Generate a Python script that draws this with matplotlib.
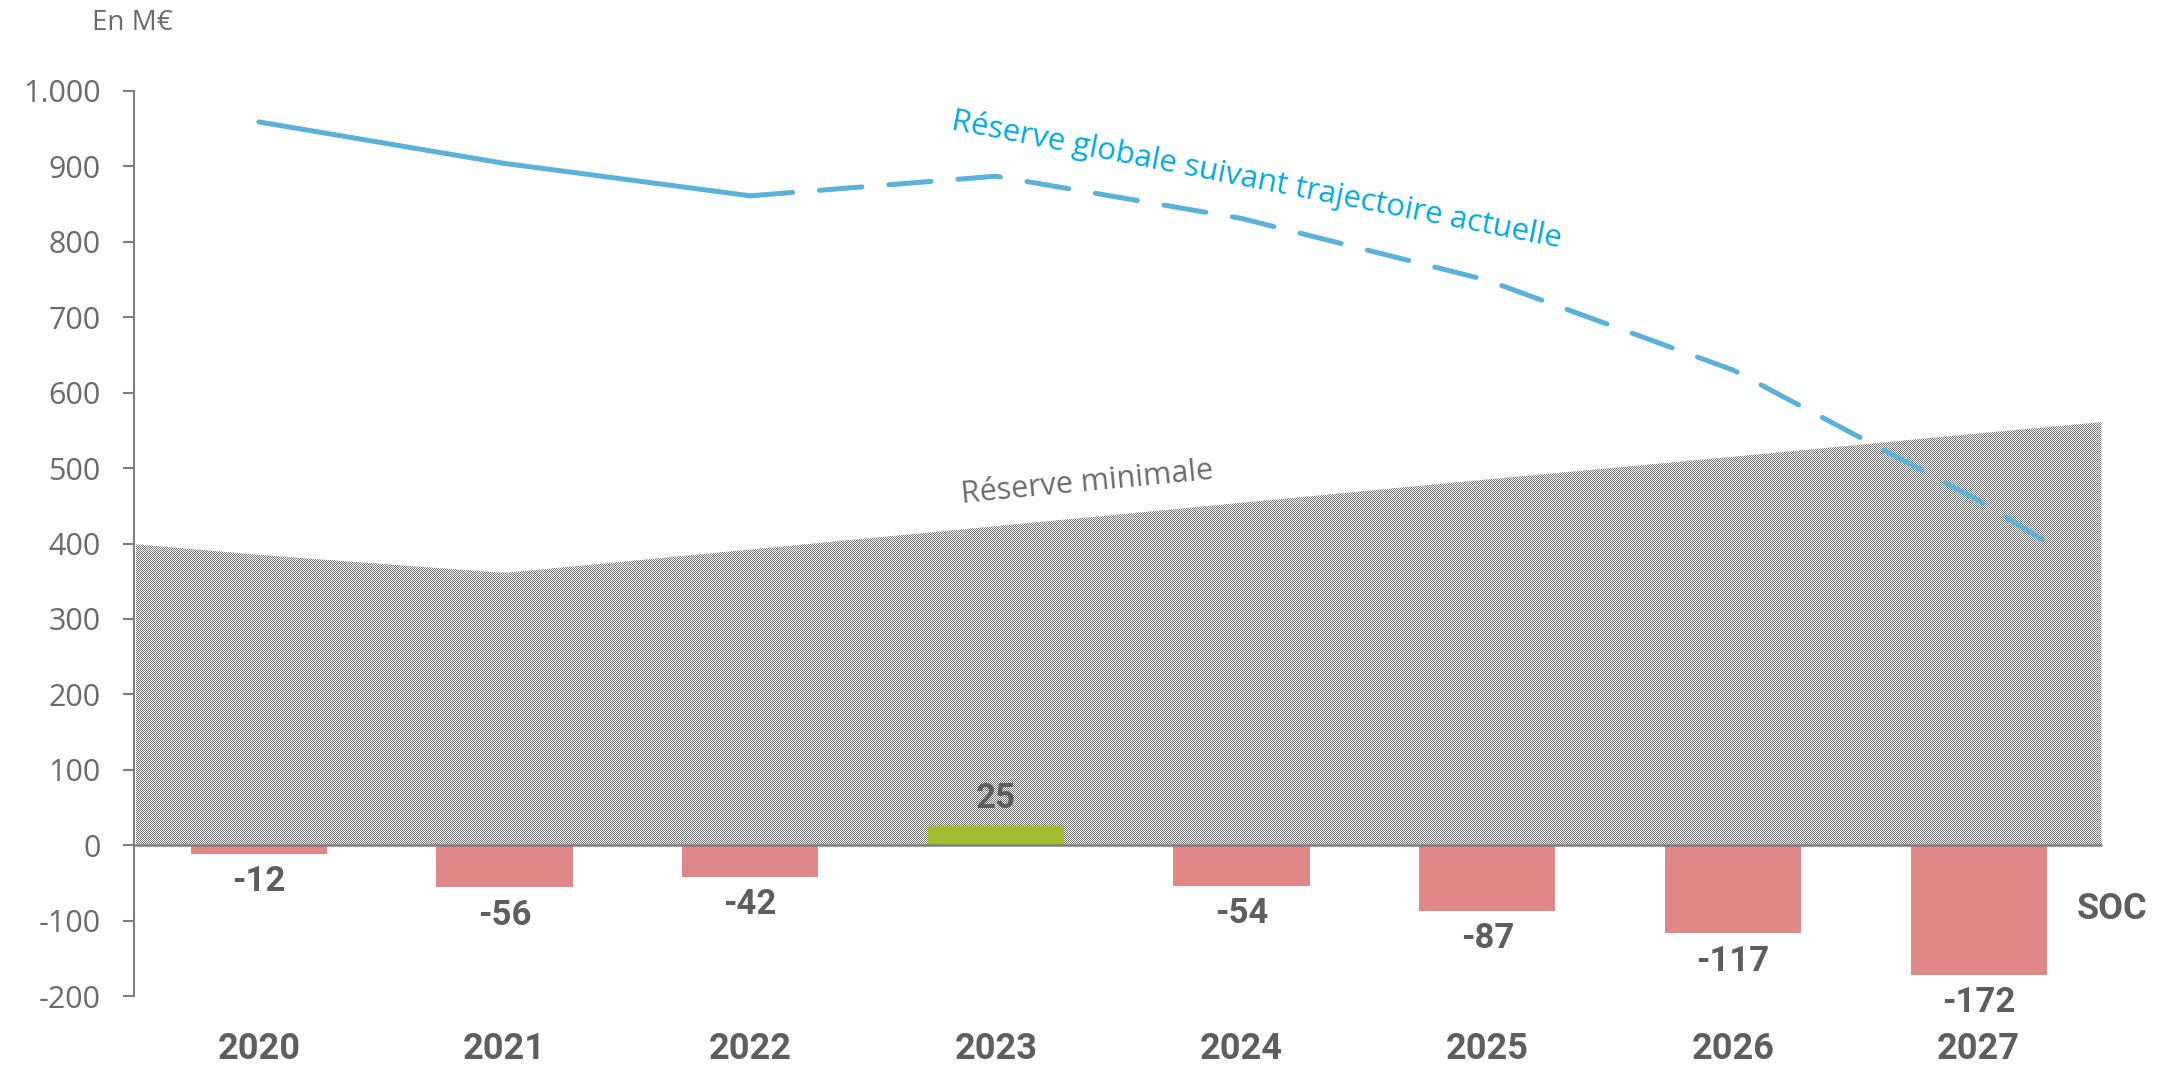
import numpy as np
import matplotlib
matplotlib.use("Agg")
import matplotlib.pyplot as plt

# data (M€)
years = ['2020', '2021', '2022', '2023', '2024', '2025', '2026', '2027']
soc = [-12, -56, -42, 25, -54, -87, -117, -172]
reserve_globale = [959, 904, 861, 887, 831, 749, 630, 457]
reserve_globale_tail = 397          # line runs a bit past 2027
n_realise = 3                       # 2020-2022 solid, then dashed
reserve_min = [385, 361, 392, 423, 454, 485, 515, 546]
reserve_min_edges = [399, 561]      # value at left / right edge of the area
yticks = list(range(-200, 1001, 100))

W, H, DPI = 2159, 1068, 100
GRAY = '#6b6b6b'
DARK = '#5e5e5e'
RED = '#e08888'
GREEN = '#a2bd30'
LINE = '#5ab2da'
CYAN = '#00a9e6'

REG = ['Open Sans', 'DejaVu Sans']
COND = ['Liberation Sans Narrow', 'Roboto', 'DejaVu Sans']

fig = plt.figure(figsize=(W / DPI, H / DPI), dpi=DPI, facecolor='white')
ax = fig.add_axes([134 / W, 72 / H, (W - 134) / W, 905 / H])
ax.set_facecolor('none')

x = np.arange(len(years))
x0 = -0.508
ax.set_xlim(x0, x0 + (W - 134) / 245.7)
ax.set_ylim(-200, 1000)

# minimal reserve: fine grey checker, clipped to the area
xs_area = np.concatenate([[x[0] - 0.5], x, [x[-1] + 0.5]])
ys_area = np.concatenate([[reserve_min_edges[0]], reserve_min, [reserve_min_edges[1]]])
coll = ax.fill_between(xs_area, 0, ys_area, facecolor='none', edgecolor='none')
yy, xx = np.mgrid[0:H, 0:W]
checker = np.ones((H, W, 4))
checker[(xx + yy) % 2 == 0, :3] = 0x74 / 255
im = fig.figimage(checker, xo=0, yo=0, origin='upper', zorder=-1)
im.set_clip_path(coll.get_paths()[0], ax.transData)

# bars
colors = [GREEN if v > 0 else RED for v in soc]
ax.bar(x, soc, width=0.555, color=colors, zorder=3)
for xi, v in zip(x, soc):
    off = 8 if v > 0 else -8
    ax.annotate(f'{v}', (xi, v), xytext=(0, off), textcoords='offset points',
                ha='center', va='bottom' if v > 0 else 'top',
                fontsize=25, fontweight='bold', color=DARK, family=COND)

# global reserve line
lx = list(x[:n_realise])
ly = reserve_globale[:n_realise]
ax.plot(lx, ly, color=LINE, lw=3.6, solid_capstyle='round', zorder=4)
dx = list(x[n_realise - 1:]) + [x[-1] + 0.3]
dy = reserve_globale[n_realise - 1:] + [reserve_globale_tail]
ax.plot(dx, dy, color=LINE, lw=3.6, dashes=(8.5, 5.4), dash_capstyle='round', zorder=4)

# zero line
ax.hlines(0, x0, x[-1] + 0.5, color='#808080', lw=1.8, zorder=5)

# axes styling
for s in ['top', 'right', 'bottom']:
    ax.spines[s].set_visible(False)
ax.spines['left'].set_color('#7f7f7f')
ax.spines['left'].set_linewidth(1.5)
ax.set_yticks(yticks)
ax.set_yticklabels([f'{v:,}'.replace(',', '.') for v in yticks],
                   fontsize=22, color=GRAY, family=REG)
ax.tick_params(axis='y', length=8, width=1.5, color='#7f7f7f', pad=16)
ax.set_xticks(x)
ax.set_xticklabels(years, fontsize=26, fontweight='bold', color=DARK, family=COND)
ax.tick_params(axis='x', length=0, pad=25)

# annotations
fig.text(92 / W, 1 - 23 / H, 'En M€', fontsize=20, color=GRAY, family=REG,
         ha='left', va='center')
ax.text(x[-1] + 0.4, -84, 'SOC', fontsize=26, fontweight='bold', color=DARK,
        family=COND, ha='left', va='center', clip_on=False)
ax.text(3.37, 481, 'Réserve minimale', fontsize=22, color=GRAY, family=REG,
        rotation=5.5, ha='center', va='center', rotation_mode='anchor')
ax.text(4.06, 882, 'Réserve globale suivant trajectoire actuelle', fontsize=22.5,
        color=CYAN, family=REG, rotation=-11, ha='center', va='center',
        rotation_mode='anchor')

fig.savefig('out.png', dpi=DPI, facecolor='white')
